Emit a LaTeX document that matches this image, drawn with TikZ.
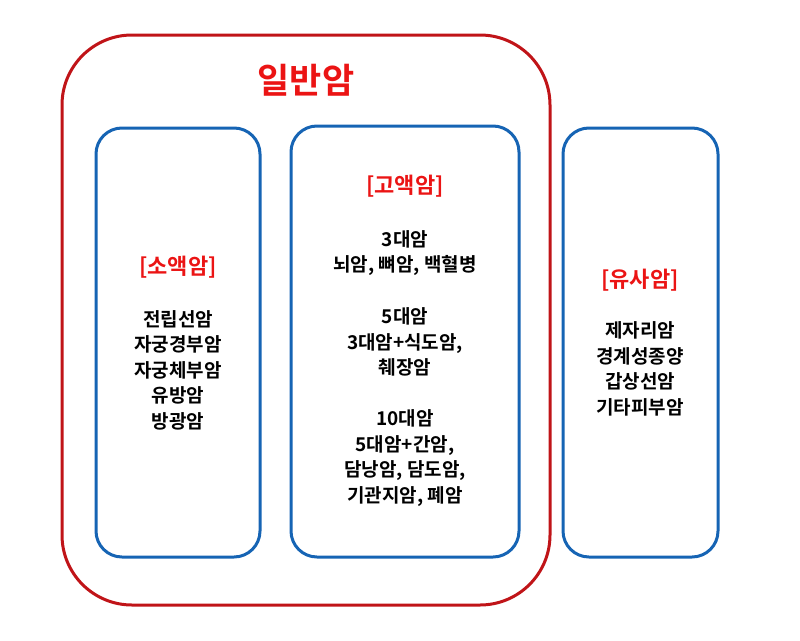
\documentclass[tikz,border=0pt]{standalone}
\usepackage{fontspec}
\newfontfamily\kr{Noto Sans CJK KR}[BoldFont={Noto Sans CJK KR Bold}]
\definecolor{dred}{RGB}{192,20,24}
\definecolor{tred}{RGB}{235,20,20}
\definecolor{bblue}{RGB}{22,100,180}
\begin{document}
\begin{tikzpicture}[x=1pt,y=-1pt,
  outer/.style={draw=dred,line width=3pt,rounded corners=70pt},
  inner/.style={draw=bblue,line width=3pt,rounded corners=26pt},
  head/.style={font=\kr\bfseries\fontsize{22}{26}\selectfont,text=tred},
  body/.style={font=\kr\bfseries\fontsize{19}{25.5}\selectfont,align=center,inner sep=0pt}]
\useasboundingbox (0,0) rectangle (800,640);
\draw[outer] (62,35) rectangle (550,605);
\node[font=\kr\bfseries\fontsize{35}{40}\selectfont,text=tred] (t) at (306,80) {일반암};
\draw[inner] (96,128) rectangle (260,557);
\draw[inner] (291,126) rectangle (519,557);
\draw[inner] (563,128) rectangle (718,557);
\node[head] (h1) at (178,267) {[소액암]};
\node[body] (b1) at (178,370) {전립선암\\자궁경부암\\자궁체부암\\유방암\\방광암};
\node[head] (h2) at (405,186) {[고액암]};
\node[body] (b2a) at (405,253) {3대암\\뇌암, 뼈암, 백혈병};
\node[body] (b2b) at (405,342) {5대암\\3대암+식도암,\\췌장암};
\node[body] (b2c) at (405,458) {10대암\\5대암+간암,\\담낭암, 담도암,\\기관지암, 폐암};
\node[head] (h3) at (640,280) {[유사암]};
\node[body] (b3) at (640,369) {제자리암\\경계성종양\\갑상선암\\기타피부암};
\end{tikzpicture}
\end{document}
